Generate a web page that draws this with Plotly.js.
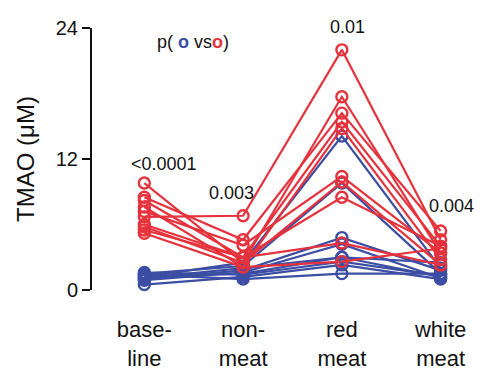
<!DOCTYPE html>
<html><head><meta charset="utf-8">
<script src="https://cdn.plot.ly/plotly-3.0.1.min.js"></script>
<style>body{margin:0;background:#fff}#chart{width:496px;height:377px}</style>
</head><body><div id="chart"></div>
<script>
const categories = ["base-<br>line", "non-<br>meat", "red<br>meat", "white<br>meat"];
const pValues = ["<0.0001", "0.003", "0.01", "0.004"];
const pValueY = [11.5, 8.9, 24.1, 7.7];

// red-group subjects (baseline, non-meat, red meat, white meat)
const red1 = [6.7, 6.8, 22.0, 4.6];
const red2 = [9.8, 2.5, 17.7, 3.4];
const red3 = [8.5, 4.6, 16.2, 5.4];
const red4 = [8.2, 3.0, 15.4, 4.0];
const red5 = [7.6, 2.1, 14.8, 2.8];
const red6 = [7.2, 4.1, 10.4, 3.4];
const red7 = [5.8, 2.5, 9.9, 2.3];
const red8 = [5.5, 3.0, 8.5, 4.0];
const red9 = [5.2, 2.1, 2.6, 3.8];
const red10 = [6.0, 3.0, 4.3, 2.3];

// blue-group subjects
const blue1 = [1.2, 2.5, 14.1, 2.0];
const blue2 = [1.5, 2.2, 9.8, 1.5];
const blue3 = [1.0, 1.8, 4.8, 1.8];
const blue4 = [1.3, 1.5, 3.0, 1.2];
const blue5 = [0.5, 1.2, 2.3, 1.0];
const blue6 = [1.4, 1.0, 1.5, 1.5];
const blue7 = [1.1, 2.0, 3.0, 2.5];
const blue8 = [1.6, 1.4, 2.6, 1.3];
const blue9 = [0.9, 1.6, 4.2, 1.1];

const redSeries = [red1, red2, red3, red4, red5, red6, red7, red8, red9, red10];
const blueSeries = [blue1, blue2, blue3, blue4, blue5, blue6, blue7, blue8, blue9];

const RED = "#e5323c", BLUE = "#3b4ea3";
const FONT = "Liberation Sans, Arial";
const xs = categories.map((c, i) => i);
const pShift = [20, -12, 6, 11];

function mk(vals, color) {
  return {
    x: xs, y: vals, type: "scatter", mode: "lines+markers",
    line: {color: color, width: 2.2},
    marker: {symbol: "circle-open", size: 11, color: color, line: {width: 2.4, color: color}},
    cliponaxis: false, hoverinfo: "skip", showlegend: false
  };
}
const traces = [...blueSeries.map(v => mk(v, BLUE)), ...redSeries.map(v => mk(v, RED))];

const annotations = pValues.map((p, i) => ({
  x: xs[i], y: pValueY[i] / 24, xref: "x", yref: "paper", text: p, showarrow: false,
  xshift: pShift[i],
  font: {family: FONT, size: 18, color: "#111"}, yanchor: "middle"
}));
annotations.push({
  x: 155, y: 42, xref: "paper", yref: "paper", xanchor: "left", yanchor: "middle",
  text: 'p(<span style="color:' + BLUE + '"><b> o</b></span> vs<span style="color:' + RED + '"><b>o</b></span>)',
  showarrow: false, font: {family: FONT, size: 18, color: "#111"}
});
// convert pixel legend position to paper coords
annotations[annotations.length - 1].x = (155 - 92) / 398;
annotations[annotations.length - 1].y = (290 - 42) / 262;

const layout = {
  width: 496, height: 377,
  margin: {l: 92, r: 6, t: 28, b: 87},
  paper_bgcolor: "#fff", plot_bgcolor: "#fff",
  xaxis: {
    range: [-0.53, 3.5], tickvals: xs, ticktext: categories,
    showline: false, showgrid: false, zeroline: false, ticks: "",
    ticklabelstandoff: 24,
    tickfont: {family: FONT, size: 22, color: "#111"}
  },
  yaxis: {
    range: [0, 24], tickvals: [0, 12, 24], showgrid: false, zeroline: false,
    showline: true, linecolor: "#111", linewidth: 2,
    ticks: "outside", ticklen: 8, tickwidth: 2, tickcolor: "#111",
    tickfont: {family: FONT, size: 20, color: "#111"},
    title: {text: "TMAO (μM)", standoff: 14, font: {family: FONT, size: 24, color: "#111"}}
  },
  annotations: annotations
};
Plotly.newPlot("chart", traces, layout, {staticPlot: true, displayModeBar: false});
</script></body></html>
